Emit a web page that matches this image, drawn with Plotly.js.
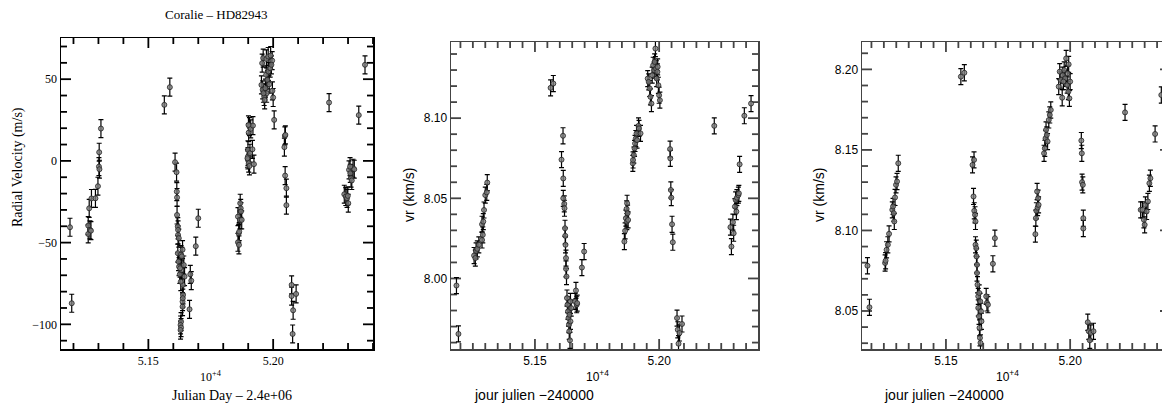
<!DOCTYPE html>
<html><head><meta charset="utf-8">
<script src="https://cdn.plot.ly/plotly-3.0.1.min.js"></script>
<style>html,body{margin:0;padding:0;overflow:hidden;background:#fff}#chart{width:1180px;height:408px}</style>
</head><body><div id="chart"></div>
<script>
// Panel 1: Coralie – HD82943, radial velocity (m/s)
const p1Days = [51186,51193,51259,51259,51266,51270,51263,51272,51288,51298,51302,51304,51303,51310,
51564,51586,
51607,51613,51614,51615,51615,51618,51619,51619,51622,51618,51621,51623,51626,51631,51634,51637,51642,51645,51638,51639,51637,51637,51631,51629,51631,51629,51638,51630,51633,51627,
51668,51672,51665,51690,51700,
51859,51859,51863,51862,51864,51867,51870,51868,51871,51874,51899,51899,51902,51897,51905,51899,51907,51917,51923,51902,51905,51910,51919,51901,
51956,51960,51973,51980,51990,51996,51953,51958,51964,51966,51969,51972,51977,51981,51984,51988,51993,51997,52000,51974,51961,52004,
52047,52049,52045,52048,52053,52053,52074,52074,52080,52092,52078,
52224,52285,52291,52296,52301,52299,52304,52309,52312,52315,52320,52325,52308,52343,52368];
const p1RV = [-40.6,-87.1,-39.6,-44.7,-42.2,-42.7,-29,-23,-22.9,-15.5,-3.5,-5.1,5.3,19.8,
34.3,45.1,
-0.8,-6.9,-18.8,-22.4,-33.1,-40.2,-42.2,-45.3,-47.3,-56.5,-61.6,-64.7,-69.4,-57.3,-58.4,-54.3,-63.7,-70.8,-75.9,-82,-86.1,-89.2,-98.4,-100.4,-102,-103.5,-84,-73.9,-66.7,-65.7,
-69.4,-73.3,-90.8,-52.2,-35.1,
-34.1,-49.8,-51.4,-44.3,-43.3,-36.1,-29,-25.9,-31,-36.1,2.7,0.6,-1.4,1.6,-3.1,6.7,4.7,7.1,-2,17.3,21,19.6,21.6,22,
59.8,62.9,62.4,63.9,64.5,61.4,46.5,43.5,39.4,37.3,44.5,52.7,49.6,54.7,46.9,56.7,58.8,42.9,38.8,41.4,41.4,25.1,
15.3,15.9,8.4,-9,-16.7,-27.1,-75.9,-82.7,-91.4,-81.4,-105.9,
35.7,-20.4,-21.8,-22.9,-25.9,-21.4,-5.5,-7.6,-10.6,-12,-4.5,-5.1,-3.5,28,58.8];
const p1Err = 5.5;

// Panel 2: vr (km/s)
const p2Days = [51184,51192,51255,51260,51263,51268,51274,51287,51290,51287,51292,51295,51300,51306,51308,
51563,51574,
51613,51607,51614,51614,51618,51619,51621,51622,51623,51625,51625,51627,51629,51631,51633,51635,51637,51638,51641,51639,51643,51643,51646,
51665,51668,51662,51670,51689,51698,
51860,51863,51866,51869,51870,51873,51871,51875,51894,51895,51898,51901,51903,51906,51909,51911,51917,51919,51925,
51954,51958,51962,51965,51969,51972,51976,51980,51982,51985,51988,51990,51994,51997,52000,52003,51993,
52044,52045,52047,52049,52052,52055,52072,52075,52078,52082,52092,
52222,52287,52291,52297,52300,52305,52308,52311,52313,52319,52321,52324,52343,52370];
const p2VR = [7.9956,7.9654,8.0143,8.0127,8.0172,8.0185,8.021,8.024,8.0272,8.0338,8.0355,8.0427,8.052,8.0537,8.0598,
8.1189,8.1216,
8.089,8.0741,8.0624,8.05,8.0465,8.0438,8.0313,8.0266,8.021,8.0127,8.006,8.0012,7.9878,7.9836,7.9795,7.9753,7.9712,7.967,7.9614,7.9774,7.9732,7.9857,7.9815,
7.9925,7.9836,7.9857,7.9846,8.0068,8.0168,
8.023,8.0297,8.0376,8.0434,8.0355,8.0407,8.0469,8.0365,8.0718,8.0739,8.077,8.0811,8.0842,8.0873,8.0905,8.0863,8.0952,8.0936,8.0905,
8.1247,8.1226,8.1185,8.1133,8.1091,8.1268,8.133,8.1299,8.1351,8.1434,8.1309,8.1247,8.132,8.1205,8.1143,8.1112,8.1289,
8.0807,8.0749,8.0552,8.0504,8.0338,8.0226,7.9753,7.968,7.9593,7.966,7.9716,
8.0952,8.032,8.0199,8.0351,8.0282,8.0448,8.049,8.0417,8.0504,8.052,8.0531,8.0712,8.1015,8.1091];
const p2Err = 0.005;

// Panel 3: vr (km/s)
const p3Days = [51184,51192,51255,51257,51261,51266,51271,51284,51287,51290,51292,51295,51299,51303,51308,
51560,51574,
51607,51613,51611,51614,51617,51619,51619,51622,51623,51625,51625,51627,51630,51630,51633,51635,51637,51639,51641,51643,51638,51634,
51662,51665,51669,51689,51697,
51860,51862,51864,51867,51869,51871,51873,51895,51898,51901,51903,51906,51909,51914,51918,51922,
51954,51958,51962,51968,51970,51976,51980,51984,51988,51990,51994,51997,52000,51993,51973,
52045,52047,52048,52051,52053,52053,52071,52075,52079,52083,52094,
52221,52284,52291,52297,52300,52303,52308,52313,52319,52323,52342,52367];
const p3VR = [8.0781,8.0523,8.0798,8.0812,8.088,8.0911,8.0979,8.1128,8.1149,8.1107,8.1056,8.1205,8.1283,8.1304,8.1417,
8.1955,8.1979,
8.1407,8.1438,8.1211,8.1122,8.1097,8.1056,8.0911,8.089,8.0839,8.0787,8.0736,8.0663,8.0591,8.0519,8.0467,8.0395,8.0333,8.0302,8.0498,8.0436,8.056,8.0612,
8.0591,8.055,8.0539,8.0793,8.0952,
8.0977,8.1076,8.1122,8.1242,8.1142,8.12,8.1159,8.1479,8.151,8.1572,8.1624,8.1593,8.1552,8.1686,8.1717,8.1748,
8.1893,8.1986,8.1934,8.1824,8.1964,8.1996,8.1944,8.2068,8.1903,8.1975,8.2031,8.182,8.1924,8.1862,8.1924,
8.1558,8.1479,8.13,8.1283,8.1076,8.1012,8.043,8.0374,8.0318,8.0364,8.0374,
8.1733,8.1128,8.1128,8.1066,8.1035,8.1159,8.1118,8.118,8.1293,8.1324,8.1599,8.1841];
const p3Err = 0.005;

const xTickVals = [51500, 52000];
const xTickText = ['5.15', '5.20'];
const p1YLabels = [-100, -50, 0, 50];
const p2YLabels = [8.00, 8.05, 8.10];
const p3YLabels = [8.05, 8.10, 8.15, 8.20];

const W = 1180, H = 408;
const px = v => v / W;
const py = v => 1 - v / H;

// panel frames in page pixels and their axis ranges
const P1 = {l:61, r:373, t:38, b:349, xr:[51150, 52400], yr:[-115.1, 75.2]};
const P2 = {l:451, r:758, t:42, b:349, xr:[51162, 52398], yr:[7.956, 8.1475]};
const P3 = {l:862, r:1170, t:42, b:349, xr:[51162, 52402], yr:[8.0264, 8.217]};

const marker = {symbol:'circle', size:5, color:'rgba(125,125,125,0.8)', line:{color:'#222', width:0.8}};
function trace(x, y, err, xa, ya){
  return {type:'scatter', mode:'markers', x:x, y:y, xaxis:xa, yaxis:ya, marker:marker, showlegend:false,
    error_y:{type:'constant', value:err, visible:true, color:'#000', thickness:1.2, width:2.5}, hoverinfo:'x+y'};
}

// inside tick marks on all four sides, drawn as one-sided error bars on invisible points
function tickTraces(P, xa, ya, xStep, xLo, xHi, yStep, yLo, yHi, yMajors, color){
  const dx = (P.xr[1] - P.xr[0]) / (P.r - P.l);
  const dy = (P.yr[1] - P.yr[0]) / (P.b - P.t);
  const out = [];
  const xs = [], xl = [];
  for (let i = 0; i <= Math.round((xHi - xLo) / xStep); i++){
    const v = xLo + i * xStep;
    xs.push(v);
    xl.push((xTickVals.some(t => Math.abs(t - v) < 1) ? 10 : 6) * dy);
  }
  const ys = [], yl = [];
  for (let i = 0; i <= Math.round((yHi - yLo) / yStep); i++){
    const v = +(yLo + i * yStep).toFixed(6);
    ys.push(v);
    yl.push((yMajors.some(t => Math.abs(t - v) < yStep / 10) ? 10 : 6) * dx);
  }
  const common = {type:'scatter', mode:'markers', marker:{size:1, opacity:0}, xaxis:xa, yaxis:ya,
    hoverinfo:'skip', showlegend:false, cliponaxis:false};
  out.push(Object.assign({}, common, {x:xs, y:xs.map(() => P.yr[0]),
    error_y:{type:'data', symmetric:false, array:xl, arrayminus:xl.map(() => 0), color:color, thickness:1.8, width:0}}));
  out.push(Object.assign({}, common, {x:xs, y:xs.map(() => P.yr[1]),
    error_y:{type:'data', symmetric:false, array:xl.map(() => 0), arrayminus:xl, color:color, thickness:1.8, width:0}}));
  out.push(Object.assign({}, common, {x:ys.map(() => P.xr[0]), y:ys,
    error_x:{type:'data', symmetric:false, array:yl, arrayminus:yl.map(() => 0), color:color, thickness:1.8, width:0}}));
  out.push(Object.assign({}, common, {x:ys.map(() => P.xr[1]), y:ys,
    error_x:{type:'data', symmetric:false, array:yl.map(() => 0), arrayminus:yl, color:color, thickness:1.8, width:0}}));
  return out;
}

const serif = 'Liberation Serif, Times New Roman, serif';
const sans = 'Liberation Sans, Arial, sans-serif';

function axisBase(font, lineColor, vals, txt){
  return {tickmode:'array', tickvals:vals, ticktext:txt, ticks:'', showline:true, mirror:true,
    linecolor:lineColor, linewidth:1.5, showgrid:false, zeroline:false,
    tickfont:{family:font, size:12, color:'#000'}};
}

const data = [].concat(
  tickTraces(P1, 'x', 'y', 100, 51200, 52400, 10, -110, 70, p1YLabels, '#000'),
  tickTraces(P2, 'x2', 'y2', 50, 51200, 52350, 0.01, 7.96, 8.14, p2YLabels, '#444'),
  tickTraces(P3, 'x3', 'y3', 50, 51200, 52400, 0.01, 8.03, 8.21, p3YLabels, '#444'),
  [trace(p1Days, p1RV, p1Err, 'x', 'y'),
   trace(p2Days, p2VR, p2Err, 'x2', 'y2'),
   trace(p3Days, p3VR, p3Err, 'x3', 'y3')]
);

const ann = (x, y, text, font, size, angle) => ({xref:'paper', yref:'paper', x:px(x), y:py(y), text:text,
  showarrow:false, xanchor:'center', yanchor:'middle', textangle:angle||0, font:{family:font, size:size, color:'#000'}});

const layout = {
  width:W, height:H, margin:{l:0, r:0, t:0, b:0}, paper_bgcolor:'#fff', plot_bgcolor:'#fff', showlegend:false,
  font:{color:'#000', family:sans},
  xaxis: Object.assign(axisBase(serif, '#000', xTickVals, xTickText), {domain:[px(P1.l), px(P1.r)], range:P1.xr, anchor:'y'}),
  yaxis: Object.assign(axisBase(serif, '#000', p1YLabels, ['−100','−50','0','50']), {domain:[py(P1.b), py(P1.t)], range:P1.yr, anchor:'x'}),
  xaxis2: Object.assign(axisBase(sans, '#444', xTickVals, xTickText), {domain:[px(P2.l), px(P2.r)], range:P2.xr, anchor:'y2'}),
  yaxis2: Object.assign(axisBase(sans, '#444', p2YLabels, ['8.00','8.05','8.10']), {domain:[py(P2.b), py(P2.t)], range:P2.yr, anchor:'x2'}),
  xaxis3: Object.assign(axisBase(sans, '#444', xTickVals, xTickText), {domain:[px(P3.l), px(P3.r)], range:P3.xr, anchor:'y3'}),
  yaxis3: Object.assign(axisBase(sans, '#444', p3YLabels, ['8.05','8.10','8.15','8.20']), {domain:[py(P3.b), py(P3.t)], range:P3.yr, anchor:'x3'}),
  annotations: [
    ann(217, 15, 'Coralie – HD82943', serif, 13),
    ann(18, 167, 'Radial Velocity (m/s)', serif, 14, -90),
    ann(211, 376, '10<sup>+4</sup>', serif, 12),
    ann(232, 395, 'Julian Day – 2.4e+06', serif, 14),
    ann(409, 195, 'vr (km/s)', sans, 14, -90),
    ann(597, 376, '10<sup>+4</sup>', sans, 12),
    ann(534, 395, 'jour julien −240000', sans, 14),
    ann(819, 195, 'vr (km/s)', sans, 14, -90),
    ann(1007, 376, '10<sup>+4</sup>', sans, 12),
    ann(944, 395, 'jour julien −240000', sans, 14)
  ]
};

Plotly.newPlot('chart', data, layout, {displayModeBar:false, staticPlot:true});
</script>
</body></html>
